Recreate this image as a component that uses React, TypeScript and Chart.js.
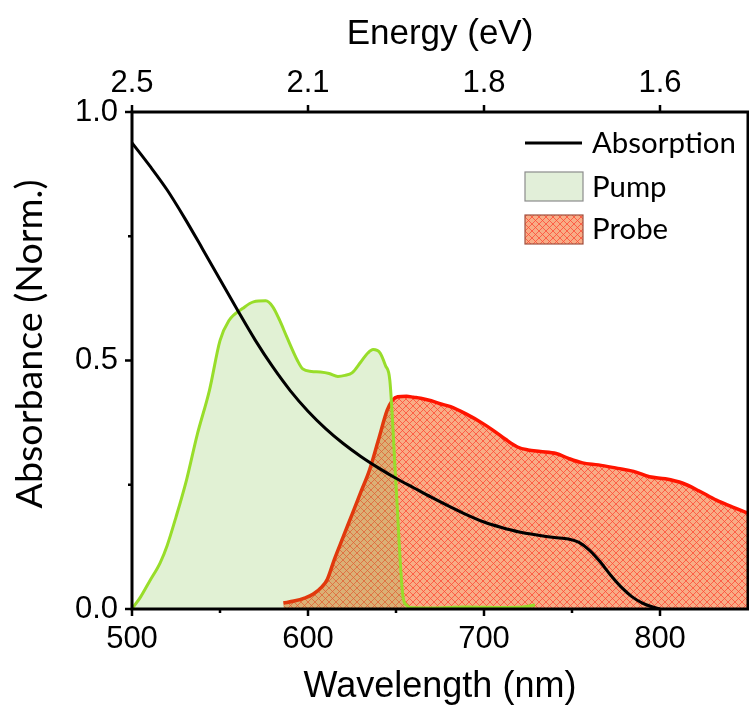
import React, { useEffect, useRef } from 'react';
import { Chart, registerables } from 'chart.js';

Chart.register(...registerables);

// ---------- data ----------
const absorptionX = [500, 510, 520, 530, 540, 550, 560, 570, 580, 590, 600, 610, 620, 630, 640, 650, 660, 670, 680, 690, 700, 710, 720, 730, 740, 748, 754, 760, 766, 772, 778, 784, 790, 795, 800];
const absorptionY = [0.938, 0.892, 0.843, 0.786, 0.725, 0.663, 0.601, 0.541, 0.487, 0.439, 0.398, 0.363, 0.333, 0.307, 0.284, 0.263, 0.244, 0.225, 0.207, 0.19, 0.175, 0.164, 0.155, 0.149, 0.144, 0.141, 0.134, 0.118, 0.095, 0.068, 0.044, 0.025, 0.012, 0.005, 0.0];

const pumpX = [500, 505, 510, 516, 520, 525, 531, 537, 544, 550, 555, 563, 569, 576, 580, 584, 588, 594, 597, 602, 607, 612, 617, 621, 625, 630, 634, 637, 641, 644, 646.5, 650, 654, 656, 658, 670, 690, 710, 722, 729];
const pumpY = [0.0, 0.025, 0.056, 0.093, 0.128, 0.185, 0.26, 0.35, 0.44, 0.54, 0.58, 0.605, 0.618, 0.62, 0.608, 0.58, 0.547, 0.5, 0.483, 0.478, 0.477, 0.474, 0.468, 0.47, 0.475, 0.497, 0.515, 0.522, 0.515, 0.49, 0.46, 0.25, 0.024, 0.008, 0.003, 0.002, 0.004, 0.003, 0.004, 0.008];

const probeX = [586, 592, 598, 603, 608, 611, 615, 620, 625, 630, 635, 640, 645, 648, 651, 656, 660, 664, 670, 675, 681, 690, 699, 705, 712, 719, 725, 732, 741, 748, 756, 765, 776, 785, 794, 803, 813, 822, 832, 840, 850];
const probeY = [0.012, 0.016, 0.022, 0.03, 0.045, 0.06, 0.1, 0.145, 0.19, 0.235, 0.28, 0.34, 0.4, 0.42, 0.427, 0.428, 0.426, 0.424, 0.419, 0.413, 0.407, 0.392, 0.374, 0.36, 0.342, 0.326, 0.32, 0.317, 0.313, 0.303, 0.294, 0.29, 0.283, 0.277, 0.266, 0.262, 0.253, 0.238, 0.219, 0.207, 0.193];

const wavelengthTicks = [500, 600, 700, 800];
const wavelengthMinorTicks = [550, 650, 750];
const energyTickLabels = ['2.5', '2.1', '1.8', '1.6'];
const absorbanceTicks = [0, 0.5, 1.0];
const absorbanceMinorTicks = [0.25, 0.75];
const seriesLabels = ['Absorption', 'Pump', 'Probe'];

// ---------- styles ----------
const PUMP_LINE = '#98DD2A';
const PUMP_FILL = 'rgba(120, 190, 60, 0.22)';
const PUMP_SWATCH = '#E2EFD9';
const PROBE_LINE = '#FF1400';
const CALIBRI_LIKE = 'Lato, "Open Sans", sans-serif';
const ARIAL_LIKE = '"Liberation Sans", Arial, sans-serif';

function makeHatch(): CanvasPattern | string {
  const s = 7;
  const c = document.createElement('canvas');
  c.width = s;
  c.height = s;
  const g = c.getContext('2d');
  if (!g) return '#F8AC86';
  g.fillStyle = '#F8AC86';
  g.fillRect(0, 0, s, s);
  g.strokeStyle = 'rgba(255, 70, 50, 0.75)';
  g.lineWidth = 1;
  g.beginPath();
  g.moveTo(-1, -1);
  g.lineTo(s + 1, s + 1);
  g.moveTo(s + 1, -1);
  g.lineTo(-1, s + 1);
  g.stroke();
  const p = g.createPattern(c, 'repeat');
  return p || '#F8AC86';
}

const toPoints = (xs: number[], ys: number[]) => xs.map((x, i) => ({ x, y: ys[i] }));

export default function App() {
  const ref = useRef<HTMLCanvasElement | null>(null);

  useEffect(() => {
    const canvas = ref.current;
    if (!canvas) return;
    const hatch = makeHatch();

    const framePlugin = {
      id: 'frameAndLegend',
      afterDraw(chart: any) {
        const ctx: CanvasRenderingContext2D = chart.ctx;
        const { left, right, top, bottom } = chart.chartArea;
        const xs = chart.scales.x;
        const ys = chart.scales.y;
        ctx.save();
        // frame
        ctx.strokeStyle = '#000';
        ctx.lineWidth = 3;
        ctx.strokeRect(left, top, right - left, bottom - top);
        // ticks
        ctx.lineWidth = 2.5;
        ctx.beginPath();
        wavelengthTicks.forEach((v) => {
          const px = xs.getPixelForValue(v);
          ctx.moveTo(px, bottom);
          ctx.lineTo(px, bottom + 7);
          ctx.moveTo(px, top);
          ctx.lineTo(px, top - 7);
        });
        wavelengthMinorTicks.forEach((v) => {
          const px = xs.getPixelForValue(v);
          ctx.moveTo(px, bottom);
          ctx.lineTo(px, bottom + 4);
        });
        absorbanceTicks.forEach((v) => {
          const py = ys.getPixelForValue(v);
          ctx.moveTo(left, py);
          ctx.lineTo(left - 7, py);
        });
        absorbanceMinorTicks.forEach((v) => {
          const py = ys.getPixelForValue(v);
          ctx.moveTo(left, py);
          ctx.lineTo(left - 4, py);
        });
        ctx.stroke();

        // y axis title
        const yTitle = 'Absorbance (Norm.)';
        ctx.font = `38px ${CALIBRI_LIKE}`;
        const tw = ctx.measureText(yTitle).width;
        const ySize = (38 * 329) / tw;
        ctx.font = `${ySize}px ${CALIBRI_LIKE}`;
        ctx.fillStyle = '#000';
        ctx.translate(42, 344);
        ctx.rotate(-Math.PI / 2);
        ctx.textAlign = 'center';
        ctx.textBaseline = 'alphabetic';
        ctx.fillText(yTitle, 0, 0);
        ctx.setTransform(1, 0, 0, 1, 0, 0);

        // legend
        ctx.font = `32px ${CALIBRI_LIKE}`;
        const lw = ctx.measureText(seriesLabels[0]).width;
        const lSize = (32 * 144) / lw;
        ctx.font = `${lSize}px ${CALIBRI_LIKE}`;
        ctx.textAlign = 'left';
        ctx.textBaseline = 'alphabetic';
        const sx = right - 223;
        const textX = right - 156;
        // Absorption line
        ctx.strokeStyle = '#000';
        ctx.lineWidth = 3;
        ctx.beginPath();
        ctx.moveTo(sx, top + 31);
        ctx.lineTo(sx + 57, top + 31);
        ctx.stroke();
        ctx.fillText(seriesLabels[0], textX, top + 41);
        // Pump swatch
        ctx.fillStyle = PUMP_SWATCH;
        ctx.fillRect(sx, top + 60, 58, 29);
        ctx.strokeStyle = '#8C8C8C';
        ctx.lineWidth = 1.2;
        ctx.strokeRect(sx, top + 60, 58, 29);
        ctx.fillStyle = '#000';
        ctx.fillText(seriesLabels[1], textX, top + 85);
        // Probe swatch
        ctx.fillStyle = hatch as any;
        ctx.fillRect(sx, top + 103, 58, 29);
        ctx.strokeStyle = '#A05040';
        ctx.strokeRect(sx, top + 103, 58, 29);
        ctx.fillStyle = '#000';
        ctx.fillText(seriesLabels[2], textX, top + 127);
        ctx.restore();
      },
    };

    const tickFont = { family: ARIAL_LIKE, size: 31 };

    const chart = new Chart(canvas, {
      type: 'line',
      data: {
        datasets: [
          {
            label: seriesLabels[0],
            data: toPoints(absorptionX, absorptionY),
            borderColor: '#000',
            borderWidth: 3,
            pointRadius: 0,
            fill: false,
            cubicInterpolationMode: 'monotone',
          },
          {
            label: seriesLabels[1],
            data: toPoints(pumpX, pumpY),
            borderColor: PUMP_LINE,
            backgroundColor: PUMP_FILL,
            borderWidth: 3,
            pointRadius: 0,
            fill: 'origin',
            cubicInterpolationMode: 'monotone',
          },
          {
            label: seriesLabels[2],
            data: toPoints(probeX, probeY),
            borderColor: PROBE_LINE,
            backgroundColor: hatch as any,
            borderWidth: 3.5,
            pointRadius: 0,
            fill: 'origin',
            cubicInterpolationMode: 'monotone',
          },
        ],
      },
      options: {
        animation: false,
        responsive: false,
        devicePixelRatio: 1,
        layout: { padding: { left: 0, right: 1, top: 0, bottom: 0 } },
        plugins: {
          legend: { display: false },
          tooltip: { enabled: false },
        },
        scales: {
          x: {
            type: 'linear',
            position: 'bottom',
            min: 500,
            max: 850,
            afterBuildTicks: (s: any) => {
              s.ticks = wavelengthTicks.map((v) => ({ value: v }));
            },
            afterFit: (s: any) => {
              s.height = 104;
            },
            grid: { display: false, drawTicks: false },
            border: { display: false },
            ticks: {
              padding: 12,
              font: tickFont,
              color: '#000',
              maxRotation: 0,
              autoSkip: false,
              callback: (v: any) => String(v),
            },
            title: {
              display: true,
              text: 'Wavelength (nm)',
              font: { family: ARIAL_LIKE, size: 36 },
              color: '#000',
              padding: { top: 0, bottom: 4 },
            },
          },
          x2: {
            type: 'linear',
            position: 'top',
            min: 500,
            max: 850,
            afterBuildTicks: (s: any) => {
              s.ticks = wavelengthTicks.map((v) => ({ value: v }));
            },
            afterFit: (s: any) => {
              s.height = 112;
            },
            grid: { display: false, drawTicks: false },
            border: { display: false },
            ticks: {
              padding: 10,
              font: tickFont,
              color: '#000',
              maxRotation: 0,
              autoSkip: false,
              callback: (_v: any, i: number) => energyTickLabels[i],
            },
            title: {
              display: true,
              text: 'Energy (eV)',
              font: { family: ARIAL_LIKE, size: 35 },
              color: '#000',
              padding: { top: 13, bottom: 0 },
            },
          },
          y: {
            type: 'linear',
            position: 'left',
            min: 0,
            max: 1,
            afterBuildTicks: (s: any) => {
              s.ticks = absorbanceTicks.map((v) => ({ value: v }));
            },
            afterFit: (s: any) => {
              s.width = 132;
            },
            grid: { display: false, drawTicks: false },
            border: { display: false },
            ticks: {
              padding: 14,
              font: tickFont,
              color: '#000',
              autoSkip: false,
              callback: (v: any) => Number(v).toFixed(1),
            },
            title: { display: false },
          },
        },
      } as any,
      plugins: [framePlugin],
    });

    return () => {
      chart.destroy();
    };
  }, []);

  return (
    <div style={{ position: 'absolute', left: 0, top: 0, width: 749, height: 713, background: '#fff' }}>
      <canvas ref={ref} width={749} height={713} style={{ display: 'block', width: 749, height: 713 }} />
    </div>
  );
}
